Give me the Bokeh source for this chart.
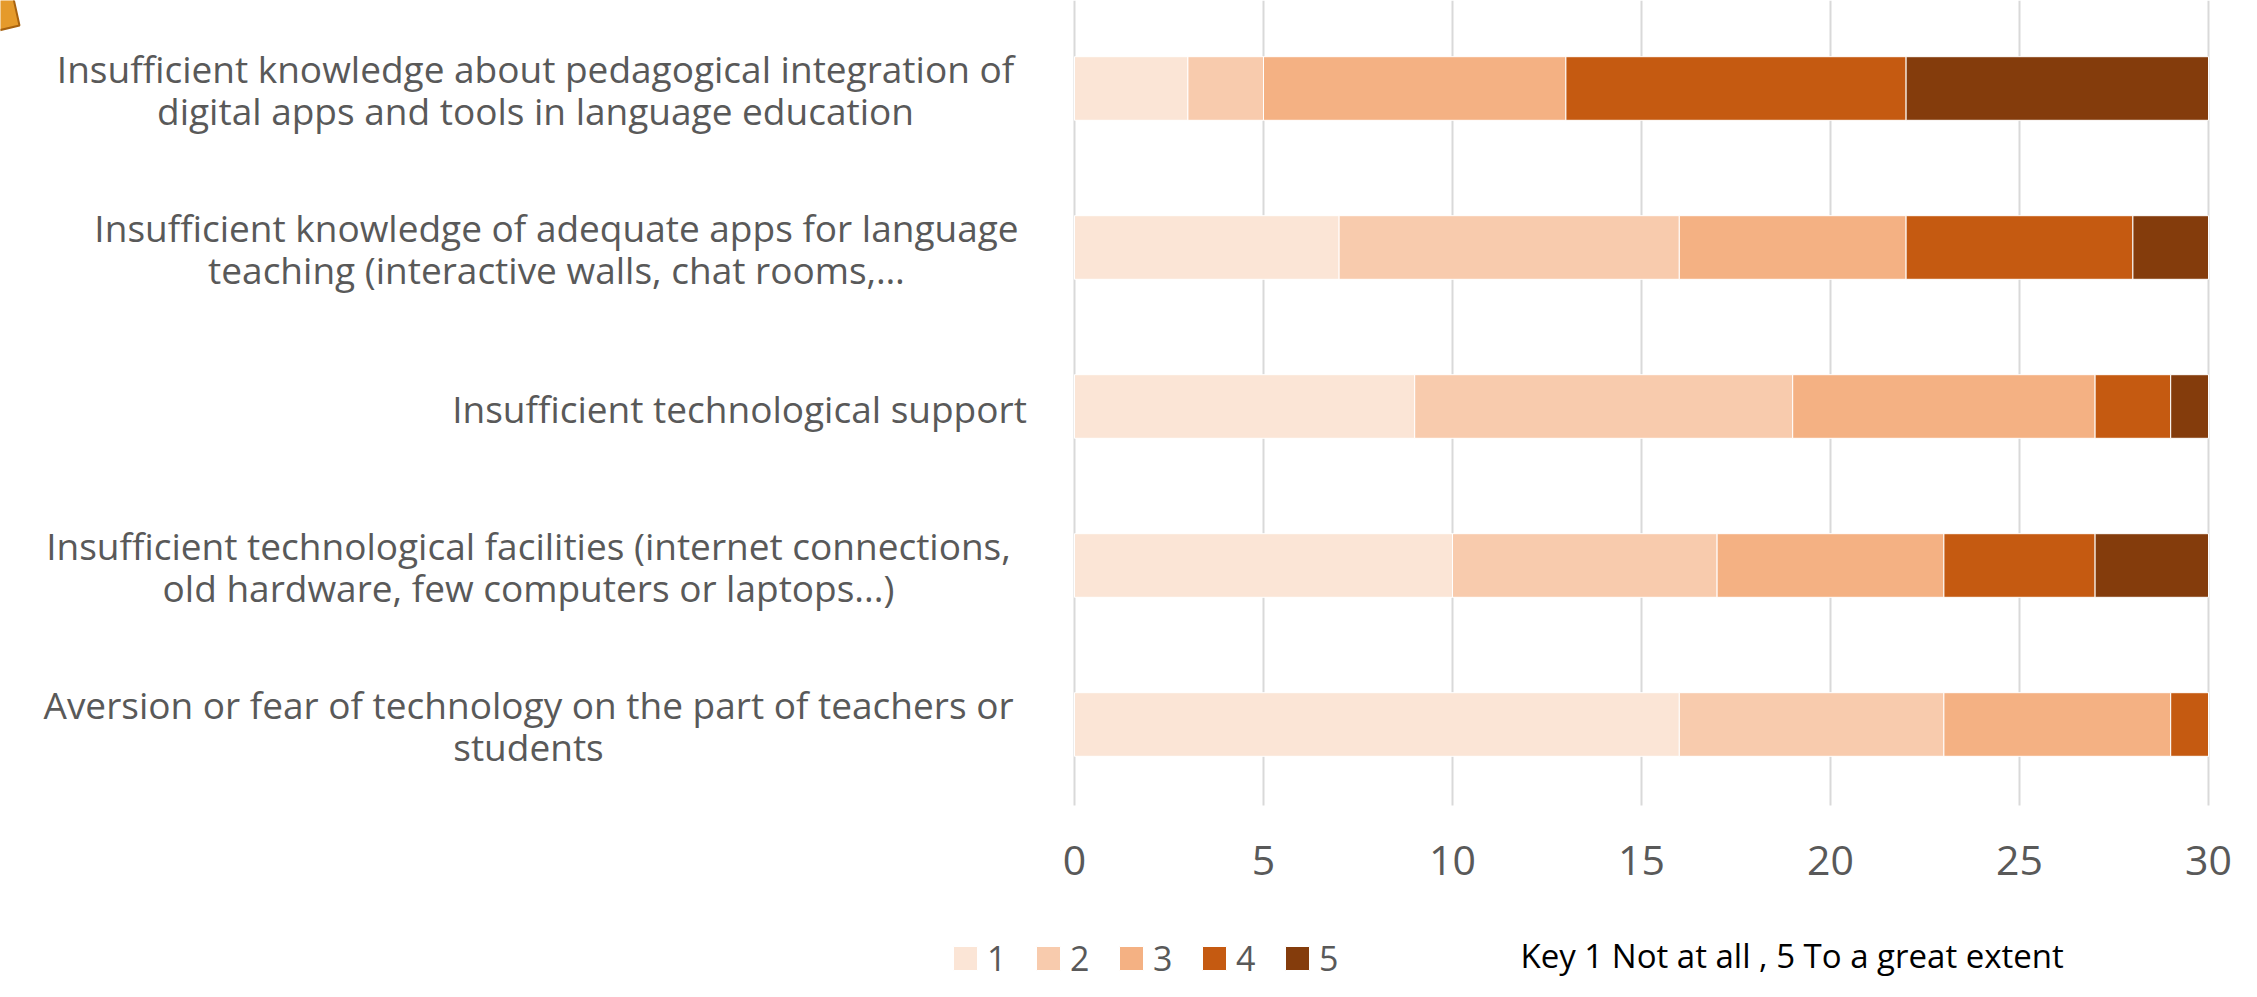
from bokeh.plotting import figure
from bokeh.models import ColumnDataSource, Range1d
from bokeh.core.properties import value
from bokeh.embed import file_html
from bokeh.resources import INLINE

# ---------------- data ----------------
categories = [
    "Insufficient knowledge about pedagogical integration of digital apps and tools in language education",
    "Insufficient knowledge of adequate apps for language teaching (interactive walls, chat rooms,…",
    "Insufficient technological support",
    "Insufficient technological facilities (internet connections, old hardware, few computers or laptops...)",
    "Aversion or fear of technology on the part of teachers or students",
]
label_lines = [
    ["Insufficient knowledge about pedagogical integration of", "digital apps and tools in language education"],
    ["Insufficient knowledge of adequate apps for language", "teaching (interactive walls, chat rooms,…"],
    ["Insufficient technological support"],
    ["Insufficient technological facilities (internet connections,", "old hardware, few computers or laptops...)"],
    ["Aversion or fear of technology on the part of teachers or", "students"],
]
levels = ["1", "2", "3", "4", "5"]
level_1 = [3, 7, 9, 10, 16]
level_2 = [2, 9, 10, 7, 7]
level_3 = [8, 6, 8, 6, 6]
level_4 = [9, 6, 2, 4, 1]
level_5 = [8, 2, 1, 3, 0]
x_ticks = [0, 5, 10, 15, 20, 25, 30]
key_text = "Key 1 Not at all , 5 To a great extent"

colors = ["#FBE5D6", "#F8CBAD", "#F4B183", "#C55A11", "#843C0C"]
FONT = "Open Sans"
GREY = "#595959"

# ---------------- layout (pixels of the figure) ----------------
W, H = 2241, 981
X0_PX, PX_PER_UNIT = 1074, 37.8          # where value 0 sits, pixels per value unit
CAT_PX = 159.0                            # pixels between category centres
TOP_CAT_PX = 88.0                         # pixel row of the first category centre
n = len(categories)
Y_TOP = (n - 1) + TOP_CAT_PX / CAT_PX


def xd(px):
    return (px - X0_PX) / PX_PER_UNIT


def yd(py):
    return Y_TOP - py / CAT_PX


p = figure(width=W, height=H, output_backend="svg", toolbar_location=None,
           x_range=Range1d(xd(0), xd(W)), y_range=Range1d(yd(H), yd(0)),
           min_border=0, min_border_left=0, min_border_right=0,
           min_border_top=0, min_border_bottom=0)
p.axis.visible = False
p.grid.visible = False
p.outline_line_color = None
p.background_fill_color = "white"
p.border_fill_color = "white"

ypos = [float(n - 1 - i) for i in range(n)]

# vertical grid lines at the value ticks
p.segment(x0=x_ticks, x1=x_ticks, y0=[yd(805)] * len(x_ticks), y1=[yd(0)] * len(x_ticks),
          line_color="#D9D9D9", line_width=2)

source = ColumnDataSource(dict(y=ypos, **{"1": level_1, "2": level_2, "3": level_3,
                                          "4": level_4, "5": level_5}))
p.hbar_stack(levels, y="y", height=0.4, color=colors, line_color="white", line_width=1,
             source=source, legend_label=levels)

# value tick labels
p.text(x=x_ticks, y=[yd(860)] * len(x_ticks), text=[str(t) for t in x_ticks],
       text_align="center", text_baseline="middle", text_font=value(FONT),
       text_font_size="41px", text_color=GREY)

# category labels, one text per line, lines centred in each block
block_centre_px = [535, 556, 739, 528, 528]
lx, ly, lt = [], [], []
for yc, lines, cx in zip(ypos, label_lines, block_centre_px):
    offs = [1.5] if len(lines) == 1 else [-20.5, 21.5]
    for line, o in zip(lines, offs):
        lx.append(xd(cx))
        ly.append(yc - o / CAT_PX)
        lt.append(line)
p.text(x=lx, y=ly, text=lt, text_align="center", text_baseline="alphabetic",
       text_font=value(FONT), text_font_size="37px", text_color=GREY)

# legend
lg = p.legend[0]
lg.orientation = "horizontal"
lg.location = (950, 0)
lg.label_text_font = FONT
lg.label_text_font_size = "34px"
lg.label_text_color = GREY
lg.glyph_width = 30
lg.glyph_height = 30
lg.label_standoff = 7
lg.spacing = 26
lg.padding = 0
lg.margin = 0
lg.border_line_color = None
lg.background_fill_alpha = 0

# key text
p.text(x=[xd(1520)], y=[yd(955)], text=[key_text], text_align="left",
       text_baseline="alphabetic", text_font=value(FONT), text_font_size="33px",
       text_color="black")

# decorative corner shape (partially visible at the top-left)
p.patch(x=[xd(-2), xd(13), xd(19), xd(-2)], y=[yd(-2), yd(-2), yd(25), yd(30)],
        fill_color="#E59A2B", line_color="#A8620F", line_width=2)

open("out.html", "w").write(file_html(p, INLINE))
